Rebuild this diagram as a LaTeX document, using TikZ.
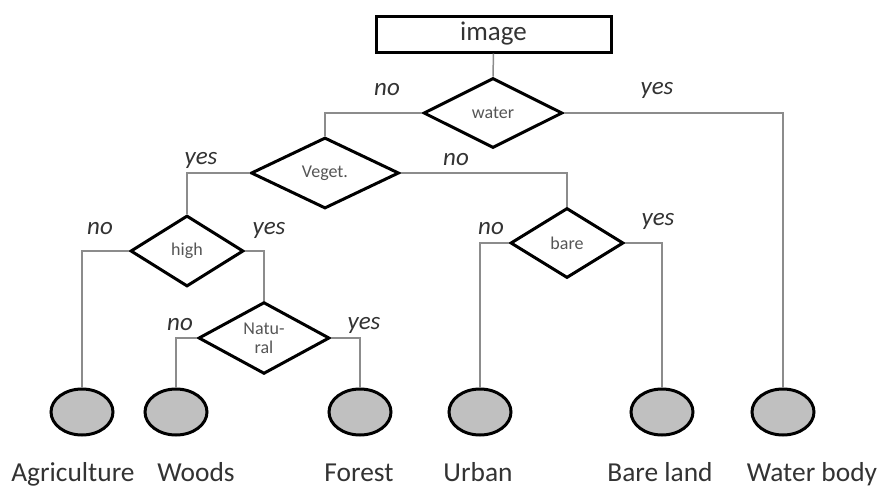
\documentclass[tikz,border=0pt]{standalone}
\usepackage{fontspec}
\setmainfont{Carlito}
\usetikzlibrary{shapes.geometric}
\definecolor{conncol}{HTML}{8C8C8C}
\definecolor{txtcol}{HTML}{333333}
\definecolor{diatxt}{HTML}{555555}
\definecolor{leaffill}{HTML}{C0C0C0}
\tikzset{
  dia/.style={diamond, draw=black, line width=1.5pt, inner sep=0pt, text=diatxt, font=\fontsize{9}{9.5}\selectfont, align=center},
  leaf/.style={ellipse, draw=black, line width=1.5pt, fill=leaffill, minimum width=31pt, minimum height=23pt, inner sep=0pt},
  conn/.style={draw=conncol, line width=0.75pt},
  lab/.style={text=txtcol, font=\fontsize{13.7}{15}\selectfont, anchor=base},
  yn/.style={text=txtcol, font=\fontsize{12.5}{14}\selectfont\itshape},
  rootbox/.style={draw=black, line width=1.5pt, minimum width=117.5pt, minimum height=18pt, inner sep=0pt, text=txtcol, font=\fontsize{13.5}{15}\selectfont}
}
\begin{document}
\begin{tikzpicture}[x=0.5pt, y=-0.5pt]
\useasboundingbox (0,0) rectangle (880,489);
% root
\node[rootbox] (img) at (493.5,34) {image};
% decisions
\node[dia, minimum width=69.5pt, minimum height=35pt] (water) at (493,113) {water};
\node[dia, minimum width=74pt, minimum height=35.5pt] (veget) at (325,173) {Veget.};
\node[dia, minimum width=56.5pt, minimum height=35.5pt] (high) at (187,251) {high};
\node[dia, minimum width=65.5pt, minimum height=34.5pt] (natural) at (264,338) {Natu-\\ral};
\node[dia, minimum width=56.5pt, minimum height=35pt] (bare) at (567,243) {bare};
% leaves
\node[leaf] (agri) at (82,412) {};
\node[leaf] (woods) at (176,412) {};
\node[leaf] (forest) at (360,412) {};
\node[leaf] (urban) at (480,412) {};
\node[leaf] (bland) at (662,412) {};
\node[leaf] (wbody) at (783,412) {};
% leaf labels
\node[lab] (tagri) at (73,481) {Agriculture};
\node[lab] (twoods) at (196,481) {Woods};
\node[lab] (tforest) at (359,481) {Forest};
\node[lab] (turban) at (478,481) {Urban};
\node[lab] (tbland) at (660,481) {Bare land};
\node[lab] (twbody) at (812,481) {Water body};
% connectors
\draw[conn] (img.south) -- (water.north);
\draw[conn] (water.west) -| (veget.north);
\draw[conn] (water.east) -| (wbody.north);
\draw[conn] (veget.west) -| (high.north);
\draw[conn] (veget.east) -| (bare.north);
\draw[conn] (high.west) -| (agri.north);
\draw[conn] (high.east) -| (natural.north);
\draw[conn] (natural.west) -| (woods.north);
\draw[conn] (natural.east) -| (forest.north);
\draw[conn] (bare.west) -| (urban.north);
\draw[conn] (bare.east) -| (bland.north);
% yes/no labels
\node[yn] (n1) at (387,90) {no};
\node[yn] (y1) at (657,90) {yes};
\node[yn] (y2) at (201,160) {yes};
\node[yn] (n2) at (456,160) {no};
\node[yn] (n3) at (100,229) {no};
\node[yn] (y3) at (269,230) {yes};
\node[yn] (n4) at (180,325) {no};
\node[yn] (y4) at (364,325) {yes};
\node[yn] (n5) at (491,229) {no};
\node[yn] (y5) at (658,221) {yes};
\end{tikzpicture}
\end{document}
